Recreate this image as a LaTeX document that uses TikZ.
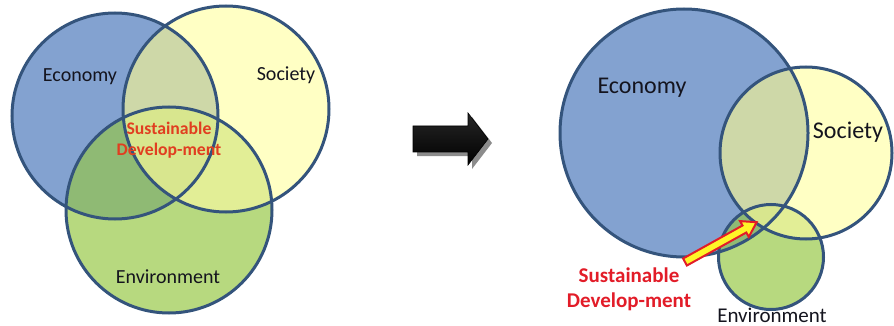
\documentclass[tikz,border=0pt]{standalone}
\usepackage{fontspec}
\setmainfont{Carlito}
\definecolor{ecoC}{RGB}{131,162,208}
\definecolor{socC}{RGB}{255,255,196}
\definecolor{envC}{RGB}{183,217,127}
\definecolor{esC}{RGB}{206,216,168}
\definecolor{evC}{RGB}{143,186,116}
\definecolor{svC}{RGB}{226,238,150}
\definecolor{allC}{RGB}{216,230,142}
\definecolor{rimC}{RGB}{52,84,124}
\definecolor{txtC}{RGB}{20,20,30}
\definecolor{redA}{RGB}{225,62,32}
\definecolor{redB}{RGB}{226,28,40}
\definecolor{arrY}{RGB}{255,245,40}
\begin{document}
\begin{tikzpicture}[x=1pt,y=-1pt,
  rim/.style={draw=rimC,line width=3pt},
  lab/.style={text=txtC,inner sep=0pt},
  sdlab/.style={text=#1,font=\bfseries,inner sep=0pt,align=center}]
\useasboundingbox (0,0) rectangle (894,326);
% ---------- left Venn ----------
\coordinate (E1) at (115,116);
\coordinate (S1) at (226,109);
\coordinate (V1) at (169,210);
\def\rA{103pt}
\fill[ecoC] (E1) circle[radius=\rA];
\fill[socC] (S1) circle[radius=\rA];
\fill[envC] (V1) circle[radius=\rA];
\begin{scope}
  \clip (E1) circle[radius=\rA];
  \fill[esC] (S1) circle[radius=\rA];
  \fill[evC] (V1) circle[radius=\rA];
\end{scope}
\begin{scope}
  \clip (S1) circle[radius=\rA];
  \fill[svC] (V1) circle[radius=\rA];
  \clip (E1) circle[radius=\rA];
  \fill[allC] (V1) circle[radius=\rA];
\end{scope}
\draw[rim] (E1) circle[radius=\rA];
\draw[rim] (S1) circle[radius=\rA];
\draw[rim] (V1) circle[radius=\rA];
\node[lab,font=\fontsize{20}{24}\selectfont] (eco1) at (80,77) {Economy};
\node[lab,font=\fontsize{20}{24}\selectfont] (soc1) at (286,75) {Society};
\node[lab,font=\fontsize{20}{24}\selectfont] (env1) at (168,277) {Environment};
\node[sdlab=redA,font=\bfseries\fontsize{17.7}{21.5}\selectfont] (sd1) at (169,140) {Sustainable\\Develop-ment};
% ---------- middle arrow ----------
\fill[black!45] (417,130) -- (472,130) -- (472,117) -- (492,143) -- (472,169) -- (472,156) -- (417,156) -- cycle;
\shade[top color=black!85,middle color=black!55,bottom color=black,draw=black,line width=0.6pt]
  (413,126) -- (468,126) -- (468,113) -- (488,139) -- (468,165) -- (468,152) -- (413,152) -- cycle;
% ---------- right Venn ----------
\coordinate (E2) at (684,133);
\coordinate (S2) at (806,153);
\coordinate (V2) at (771,257);
\def\rE{124pt}\def\rS{86pt}\def\rV{52.5pt}
\fill[ecoC] (E2) circle[radius=\rE];
\fill[socC] (S2) circle[radius=\rS];
\fill[envC] (V2) circle[radius=\rV];
\begin{scope}
  \clip (E2) circle[radius=\rE];
  \fill[esC] (S2) circle[radius=\rS];
  \fill[evC] (V2) circle[radius=\rV];
\end{scope}
\begin{scope}
  \clip (S2) circle[radius=\rS];
  \fill[svC] (V2) circle[radius=\rV];
  \clip (E2) circle[radius=\rE];
  \fill[allC] (V2) circle[radius=\rV];
\end{scope}
\draw[rim] (E2) circle[radius=\rE];
\draw[rim] (S2) circle[radius=\rS];
\draw[rim] (V2) circle[radius=\rV];
\node[lab,font=\fontsize{24}{28}\selectfont] (eco2) at (642,88) {Economy};
\node[lab,font=\fontsize{24}{28}\selectfont] (soc2) at (848,132) {Society};
\node[lab,font=\fontsize{21}{25}\selectfont,anchor=base] (env2) at (772,322) {Environment};
\node[sdlab=redB,font=\bfseries\fontsize{21}{25}\selectfont] (sd2) at (629,289) {Sustainable\\Develop-ment};
% yellow pointer arrow
\filldraw[fill=arrY,draw=redB,line width=2pt,line join=miter]
  (683.1,258.5) -- (742.5,225.5) -- (740.0,221.1) -- (756.7,222.2) -- (748.8,236.9) -- (746.3,232.5) -- (686.9,265.5) -- cycle;
\end{tikzpicture}
\end{document}
